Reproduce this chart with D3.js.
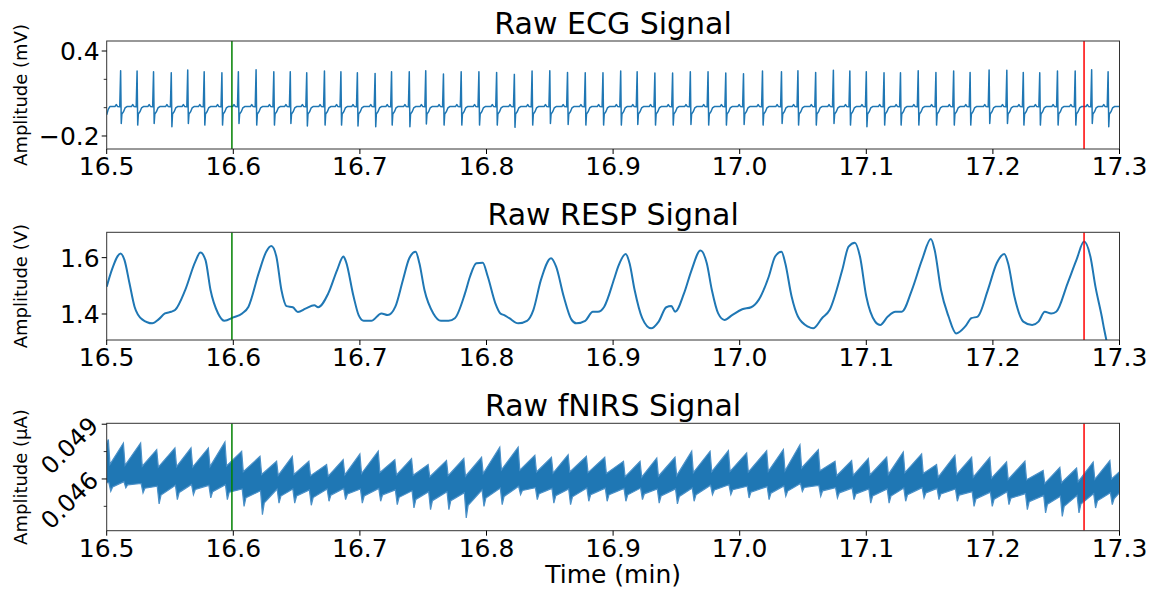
<!DOCTYPE html>
<html>
<head>
<meta charset="utf-8">
<script src="https://cdn.jsdelivr.net/npm/d3@7"></script>
<style>
  body { margin: 0; background: #fff; }
  text { font-family: "DejaVu Sans", sans-serif; fill: #000; }
</style>
</head>
<body>
<div id="viz-chart"></div>
<script>
// x axis (minutes)
const timeTicks = [16.5, 16.6, 16.7, 16.8, 16.9, 17.0, 17.1, 17.2, 17.3];
const markerStart = 16.5989;
const markerEnd = 17.272;

// ECG: R-peak times (min), R amplitude and S amplitude (mV)
const ecgBeatTime = [16.511, 16.524, 16.537, 16.551, 16.564, 16.577, 16.591, 16.604, 16.618, 16.632,
  16.645, 16.658, 16.672, 16.685, 16.698, 16.712, 16.725, 16.739, 16.752, 16.766,
  16.780, 16.794, 16.808, 16.822, 16.836, 16.850, 16.864, 16.878, 16.892, 16.906,
  16.919, 16.933, 16.947, 16.961, 16.975, 16.989, 17.003, 17.018, 17.033, 17.046,
  17.060, 17.074, 17.087, 17.100, 17.114, 17.127, 17.141, 17.155, 17.169, 17.182,
  17.197, 17.211, 17.224, 17.237, 17.251, 17.265, 17.278, 17.291];
const ecgR = [0.261, 0.259, 0.254, 0.247, 0.266, 0.254, 0.247, 0.254, 0.268, 0.254,
  0.254, 0.247, 0.259, 0.254, 0.247, 0.242, 0.254, 0.254, 0.261, 0.238,
  0.254, 0.254, 0.249, 0.235, 0.259, 0.261, 0.249, 0.247, 0.247, 0.259,
  0.254, 0.245, 0.245, 0.254, 0.254, 0.245, 0.240, 0.259, 0.254, 0.261,
  0.249, 0.264, 0.259, 0.254, 0.247, 0.247, 0.261, 0.249, 0.259, 0.249,
  0.266, 0.264, 0.249, 0.247, 0.259, 0.259, 0.268, 0.254];
const ecgS = [-0.111, -0.123, -0.111, -0.135, -0.111, -0.123, -0.123, -0.111, -0.123, -0.123,
  -0.111, -0.130, -0.123, -0.123, -0.130, -0.135, -0.123, -0.135, -0.115, -0.123,
  -0.123, -0.123, -0.123, -0.139, -0.123, -0.111, -0.118, -0.123, -0.123, -0.123,
  -0.118, -0.123, -0.123, -0.118, -0.123, -0.123, -0.118, -0.123, -0.111, -0.123,
  -0.123, -0.111, -0.123, -0.135, -0.123, -0.123, -0.123, -0.123, -0.123, -0.123,
  -0.111, -0.111, -0.123, -0.123, -0.123, -0.123, -0.111, -0.135];

// RESP (V)
const respTime = [16.500, 16.504, 16.511, 16.514, 16.518, 16.522, 16.528, 16.536, 16.541, 16.546,
  16.551, 16.554, 16.562, 16.570, 16.574, 16.578, 16.582, 16.588, 16.593, 16.600,
  16.607, 16.612, 16.620, 16.626, 16.630, 16.634, 16.638, 16.642, 16.647, 16.651,
  16.657, 16.664, 16.667, 16.675, 16.682, 16.687, 16.689, 16.695, 16.699, 16.703,
  16.709, 16.717, 16.722, 16.728, 16.734, 16.739, 16.744, 16.747, 16.751, 16.758,
  16.764, 16.770, 16.775, 16.783, 16.787, 16.792, 16.797, 16.801, 16.807, 16.811,
  16.814, 16.818, 16.825, 16.832, 16.837, 16.843, 16.851, 16.855, 16.861, 16.867,
  16.871, 16.878, 16.884, 16.888, 16.893, 16.901, 16.904, 16.910, 16.913, 16.917,
  16.923, 16.930, 16.936, 16.942, 16.946, 16.949, 16.956, 16.962, 16.969, 16.974,
  16.978, 16.983, 16.988, 16.994, 17.002, 17.009, 17.015, 17.023, 17.028, 17.033,
  17.036, 17.041, 17.046, 17.054, 17.058, 17.065, 17.071, 17.081, 17.086, 17.091,
  17.095, 17.100, 17.107, 17.111, 17.117, 17.123, 17.128, 17.136, 17.144, 17.151,
  17.154, 17.159, 17.165, 17.171, 17.178, 17.183, 17.188, 17.196, 17.203, 17.209,
  17.212, 17.217, 17.224, 17.231, 17.236, 17.241, 17.246, 17.250, 17.259, 17.266,
  17.272, 17.277, 17.281, 17.286, 17.288, 17.290];
const respValue = [1.497, 1.556, 1.615, 1.592, 1.509, 1.426, 1.381, 1.367, 1.381, 1.402,
  1.408, 1.414, 1.485, 1.586, 1.618, 1.592, 1.485, 1.402, 1.376, 1.388,
  1.402, 1.426, 1.544, 1.621, 1.641, 1.604, 1.485, 1.428, 1.424, 1.407,
  1.419, 1.431, 1.424, 1.473, 1.556, 1.604, 1.586, 1.462, 1.396, 1.376,
  1.376, 1.402, 1.396, 1.426, 1.521, 1.598, 1.621, 1.580, 1.485, 1.402,
  1.376, 1.376, 1.385, 1.473, 1.533, 1.580, 1.582, 1.533, 1.438, 1.402,
  1.396, 1.385, 1.367, 1.376, 1.414, 1.521, 1.598, 1.568, 1.462, 1.381,
  1.367, 1.376, 1.408, 1.408, 1.426, 1.527, 1.568, 1.613, 1.580, 1.485,
  1.385, 1.349, 1.373, 1.424, 1.428, 1.408, 1.473, 1.556, 1.625, 1.580,
  1.485, 1.402, 1.379, 1.396, 1.417, 1.424, 1.450, 1.533, 1.604, 1.621,
  1.580, 1.462, 1.391, 1.355, 1.349, 1.385, 1.414, 1.556, 1.639, 1.653,
  1.604, 1.462, 1.373, 1.361, 1.391, 1.408, 1.408, 1.485, 1.592, 1.666,
  1.627, 1.485, 1.391, 1.331, 1.355, 1.385, 1.391, 1.485, 1.580, 1.613,
  1.580, 1.462, 1.373, 1.361, 1.373, 1.408, 1.402, 1.408, 1.509, 1.592,
  1.657, 1.604, 1.497, 1.391, 1.343, 1.300];

// fNIRS (µA): pulse peak times, band top at peak, band top after drop,
// band bottom before drop, band bottom at dip
const fnirsTime = [16.5013, 16.5132, 16.5268, 16.5395, 16.5539, 16.5666, 16.5803, 16.5934, 16.6066, 16.6211,
  16.6342, 16.6466, 16.6597, 16.6737, 16.6868, 16.7000, 16.7145, 16.7276, 16.7408, 16.7539,
  16.7684, 16.7821, 16.7961, 16.8105, 16.8250, 16.8382, 16.8513, 16.8645, 16.8789, 16.8934,
  16.9082, 16.9213, 16.9345, 16.9489, 16.9621, 16.9766, 16.9911, 17.0055, 17.0213, 17.0345,
  17.0476, 17.0621, 17.0753, 17.0884, 17.1016, 17.1161, 17.1292, 17.1437, 17.1555, 17.1700,
  17.1832, 17.1976, 17.2108, 17.2253, 17.2397, 17.2529, 17.2661, 17.2792, 17.2924];
const fnirsPeak = [0.04816, 0.04797, 0.04797, 0.04761, 0.04770, 0.04770, 0.04770, 0.04803, 0.04752, 0.04724,
  0.04697, 0.04724, 0.04697, 0.04679, 0.04706, 0.04737, 0.04752, 0.04706, 0.04712, 0.04679,
  0.04701, 0.04712, 0.04719, 0.04774, 0.04774, 0.04730, 0.04719, 0.04733, 0.04724, 0.04719,
  0.04697, 0.04697, 0.04715, 0.04719, 0.04752, 0.04752, 0.04755, 0.04743, 0.04755, 0.04761,
  0.04788, 0.04761, 0.04697, 0.04701, 0.04712, 0.04719, 0.04748, 0.04737, 0.04679, 0.04730,
  0.04719, 0.04719, 0.04693, 0.04697, 0.04646, 0.04664, 0.04660, 0.04693, 0.04701];
const fnirsTopFloor = [0.04680, 0.04675, 0.04670, 0.04665, 0.04668, 0.04665, 0.04668, 0.04672, 0.04640, 0.04625,
  0.04620, 0.04625, 0.04618, 0.04615, 0.04622, 0.04630, 0.04635, 0.04622, 0.04620, 0.04612,
  0.04618, 0.04615, 0.04630, 0.04650, 0.04648, 0.04638, 0.04632, 0.04638, 0.04635, 0.04630,
  0.04612, 0.04610, 0.04615, 0.04618, 0.04635, 0.04640, 0.04642, 0.04638, 0.04642, 0.04645,
  0.04660, 0.04645, 0.04618, 0.04620, 0.04622, 0.04625, 0.04635, 0.04630, 0.04610, 0.04625,
  0.04610, 0.04605, 0.04598, 0.04595, 0.04575, 0.04580, 0.04585, 0.04598, 0.04600];
const fnirsBottomTop = [0.04580, 0.04585, 0.04575, 0.04560, 0.04565, 0.04570, 0.04565, 0.04568, 0.04545, 0.04535,
  0.04545, 0.04545, 0.04540, 0.04545, 0.04548, 0.04545, 0.04548, 0.04540, 0.04535, 0.04530,
  0.04530, 0.04525, 0.04540, 0.04550, 0.04560, 0.04552, 0.04548, 0.04545, 0.04550, 0.04550,
  0.04548, 0.04550, 0.04545, 0.04545, 0.04550, 0.04565, 0.04568, 0.04560, 0.04558, 0.04562,
  0.04575, 0.04565, 0.04552, 0.04550, 0.04545, 0.04545, 0.04550, 0.04552, 0.04548, 0.04545,
  0.04530, 0.04528, 0.04530, 0.04520, 0.04510, 0.04505, 0.04510, 0.04520, 0.04525];
const fnirsDip = [0.04532, 0.04551, 0.04523, 0.04463, 0.04487, 0.04514, 0.04496, 0.04487, 0.04450, 0.04404,
  0.04468, 0.04468, 0.04456, 0.04478, 0.04487, 0.04468, 0.04478, 0.04459, 0.04441, 0.04432,
  0.04432, 0.04386, 0.04450, 0.04459, 0.04514, 0.04487, 0.04468, 0.04459, 0.04478, 0.04478,
  0.04478, 0.04487, 0.04468, 0.04463, 0.04478, 0.04514, 0.04514, 0.04496, 0.04487, 0.04505,
  0.04532, 0.04505, 0.04496, 0.04487, 0.04468, 0.04468, 0.04478, 0.04496, 0.04487, 0.04478,
  0.04450, 0.04450, 0.04459, 0.04432, 0.04414, 0.04395, 0.04414, 0.04441, 0.04459];

const lineColor = "#1f77b4";
const W = 1154, H = 590;
const left = 106.7, right = 1119.5;

const panels = [
  { id: "ecg", title: "Raw ECG Signal", ylabel: "Amplitude (mV)", top: 41, bottom: 149,
    domain: [-0.2918, 0.4706], ticks: [0.4, -0.2], minor: [0.2, 0.0],
    fmt: (d) => d3.format(".1f")(d).replace("-", "\u2212"), rotate: false },
  { id: "resp", title: "Raw RESP Signal", ylabel: "Amplitude (V)", top: 232.3, bottom: 340,
    domain: [1.3077, 1.690], ticks: [1.6, 1.4], minor: [],
    fmt: d3.format(".1f"), rotate: false },
  { id: "fnirs", title: "Raw fNIRS Signal", ylabel: "Amplitude (\u00b5A)", top: 423.3, bottom: 530.7,
    domain: [0.043165, 0.04905], ticks: [0.049, 0.046], minor: [0.0475, 0.0445],
    fmt: d3.format(".3f"), rotate: true }
];

const x = d3.scaleLinear().domain([16.5, 17.3]).range([left, right]);

const svg = d3.select("#viz-chart").append("svg")
  .attr("width", W).attr("height", H);

function ecgPoints() {
  const pts = [[16.5, -0.05], [16.5012, -0.012], [16.5025, 0.008]];
  ecgBeatTime.forEach((t, i) => {
    pts.push([t - 0.0045, 0.008], [t - 0.0035, 0.022], [t - 0.0025, 0.009],
      [t - 0.0007, 0.006], [t, ecgR[i]], [t + 0.0005, ecgS[i]],
      [t + 0.001, -0.045], [t + 0.0022, -0.03], [t + 0.0035, -0.002], [t + 0.005, 0.008]);
  });
  pts.push([17.3, 0.008]);
  return pts;
}

// sawtooth band: slow rise to each pulse peak, quick drop right after it
function fnirsBand() {
  const upper = [[16.5, fnirsPeak[0] - 0.0002]];
  const lower = [[16.5, fnirsBottomTop[0]]];
  fnirsTime.forEach((t, i) => {
    upper.push([t, fnirsPeak[i]], [t + 0.0013, fnirsTopFloor[i]]);
    lower.push([t + 0.0004, fnirsBottomTop[i]], [t + 0.0019, fnirsDip[i]],
      [t + 0.0034, (fnirsDip[i] + fnirsBottomTop[i]) / 2]);
  });
  upper.push([17.3, fnirsTopFloor[fnirsTopFloor.length - 1] + 0.0004]);
  lower.push([17.3, fnirsBottomTop[fnirsBottomTop.length - 1]]);
  return { upper, lower };
}

panels.forEach((p) => {
  const y = d3.scaleLinear().domain(p.domain).range([p.bottom, p.top]);
  const g = svg.append("g");

  g.append("clipPath").attr("id", `clip-${p.id}`)
    .append("rect").attr("x", left).attr("y", p.top)
    .attr("width", right - left).attr("height", p.bottom - p.top);

  const plot = g.append("g").attr("clip-path", `url(#clip-${p.id})`);

  if (p.id === "ecg") {
    plot.append("path").datum(ecgPoints())
      .attr("d", d3.line().x((d) => x(d[0])).y((d) => y(d[1])))
      .attr("fill", "none").attr("stroke", lineColor)
      .attr("stroke-width", 1.5).attr("stroke-linejoin", "round");
  } else if (p.id === "resp") {
    plot.append("path").datum(respTime.map((t, i) => [t, respValue[i]]))
      .attr("d", d3.line().x((d) => x(d[0])).y((d) => y(d[1])).curve(d3.curveMonotoneX))
      .attr("fill", "none").attr("stroke", lineColor)
      .attr("stroke-width", 2).attr("stroke-linejoin", "round");
  } else {
    const band = fnirsBand();
    const poly = band.upper.concat(band.lower.slice().reverse());
    plot.append("path").datum(poly)
      .attr("d", d3.line().x((d) => x(d[0])).y((d) => y(d[1])))
      .attr("fill", lineColor).attr("stroke", "#4a90c8")
      .attr("stroke-width", 1.2).attr("stroke-linejoin", "miter");
  }

  // event markers
  plot.append("line")
    .attr("x1", x(markerStart)).attr("x2", x(markerStart))
    .attr("y1", p.top).attr("y2", p.bottom)
    .attr("stroke", "#008000").attr("stroke-width", 1.5);
  plot.append("line")
    .attr("x1", x(markerEnd)).attr("x2", x(markerEnd))
    .attr("y1", p.top).attr("y2", p.bottom)
    .attr("stroke", "#ff0000").attr("stroke-width", 1.5);

  // frame
  g.append("rect").attr("x", left).attr("y", p.top)
    .attr("width", right - left).attr("height", p.bottom - p.top)
    .attr("fill", "none").attr("stroke", "#333").attr("stroke-width", 1);

  // x ticks
  g.selectAll(".xtick").data(timeTicks).enter().append("line")
    .attr("x1", (d) => x(d)).attr("x2", (d) => x(d))
    .attr("y1", p.bottom).attr("y2", p.bottom + 5)
    .attr("stroke", "#000").attr("stroke-width", 1);
  g.selectAll(".xlab").data(timeTicks).enter().append("text")
    .attr("x", (d) => x(d)).attr("y", p.bottom + 26)
    .attr("text-anchor", "middle").style("font-size", "25px")
    .text((d) => d3.format(".1f")(d));

  // y ticks
  g.selectAll(".ytick").data(p.ticks).enter().append("line")
    .attr("x1", left - 5).attr("x2", left)
    .attr("y1", (d) => y(d)).attr("y2", (d) => y(d))
    .attr("stroke", "#000").attr("stroke-width", 1);
  g.selectAll(".yminor").data(p.minor).enter().append("line")
    .attr("x1", left - 3).attr("x2", left)
    .attr("y1", (d) => y(d)).attr("y2", (d) => y(d))
    .attr("stroke", "#000").attr("stroke-width", 0.8);

  if (p.rotate) {
    g.selectAll(".ylab").data(p.ticks).enter().append("text")
      .attr("transform", (d) => `translate(${left - 7},${y(d) + 3}) rotate(-45)`)
      .attr("text-anchor", "end").style("font-size", "24px")
      .text((d) => p.fmt(d));
  } else {
    g.selectAll(".ylab").data(p.ticks).enter().append("text")
      .attr("x", left - 7).attr("y", (d) => y(d)).attr("dy", "0.36em")
      .attr("text-anchor", "end").style("font-size", "25px")
      .text((d) => p.fmt(d));
  }

  g.append("text")
    .attr("transform", `translate(27,${(p.top + p.bottom) / 2}) rotate(-90)`)
    .attr("text-anchor", "middle").style("font-size", "18px")
    .text(p.ylabel);

  g.append("text")
    .attr("x", (left + right) / 2).attr("y", p.top - 7)
    .attr("text-anchor", "middle").style("font-size", "30px")
    .text(p.title);
});

svg.append("text")
  .attr("x", (left + right) / 2).attr("y", 583)
  .attr("text-anchor", "middle").style("font-size", "25px")
  .text("Time (min)");
</script>
</body>
</html>
